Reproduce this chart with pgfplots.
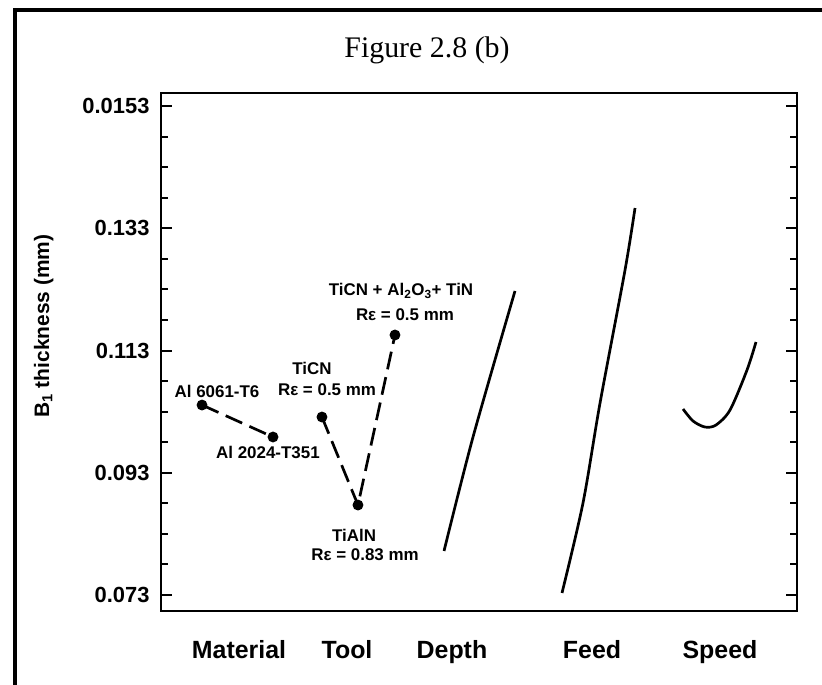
\documentclass[border=0pt]{standalone}
\usepackage{pgfplots}
\pgfplotsset{compat=1.18}
\usepackage{fontspec}
\setmainfont{Liberation Serif}
\newfontfamily\arial{Liberation Sans}
\begin{document}
\begin{tikzpicture}
\useasboundingbox (0,0) rectangle (822bp,-685bp);
\draw[line width=4bp] (15bp,-685bp) -- (15bp,-10bp) -- (822bp,-10bp);
\node[anchor=base, font=\fontsize{30}{30}\selectfont] at (427bp,-57bp) {Figure 2.8 (b)};
\begin{axis}[
  at={(161bp,-611bp)}, anchor=south west,
  width=636bp, height=518bp, scale only axis,
  xmin=0, xmax=100, ymin=0.07038, ymax=0.15513,
  axis line style={line width=2.8bp},
  xtick={12.26,29.25,45.75,67.77,87.89},
  xticklabels={Material,Tool,Depth,Feed,Speed},
  x tick style={draw=none},
  xticklabel style={anchor=base, yshift=-47bp, font=\arial\bfseries\fontsize{25}{25}\selectfont},
  ytick={0.073,0.093,0.113,0.133,0.153},
  yticklabels={0.073,0.093,0.113,0.133,0.0153},
  minor y tick num=3,
  y tick style={line width=2bp, black},
  major tick length=11bp, minor tick length=7bp,
  tick align=inside, ytick pos=both,
  yticklabel style={xshift=-8bp, font=\arial\bfseries\fontsize{22}{22}\selectfont},
  ylabel={B\textsubscript{1} thickness (mm)},
  ylabel style={at={(axis description cs:-0.1635,0.55)}, anchor=south,
    font=\arial\bfseries\fontsize{21}{21}\selectfont},
  clip=false,
]
% Material
\addplot[black, line width=2.7bp, dash pattern={on 18bp off 8bp}, mark=*, mark size=4bp,
  mark options={solid}] coordinates {(6.45,0.10408) (17.61,0.09885)};
% Tool
\addplot[black, line width=2.7bp, dash pattern={on 18bp off 8bp}, mark=*, mark size=4bp,
  mark options={solid}] coordinates {(25.31,0.10212) (30.97,0.08772) (36.79,0.11554)};
% Depth
\addplot[black, line width=2.7bp, smooth] coordinates {(44.50,0.08020) (49.06,0.09885) (55.66,0.12274)};
% Feed
\addplot[black, line width=2.7bp, smooth] coordinates {(63.05,0.07333) (66.35,0.08805) (69.03,0.10441) (72.96,0.12617) (74.53,0.13631)};
% Speed
\addplot[black, line width=2.7bp, smooth] coordinates {(82.08,0.10343) (83.65,0.10147) (85.53,0.10048) (87.26,0.10081) (89.47,0.10327) (92.14,0.10981) (93.55,0.11439)};
% annotations
\begin{scope}[every node/.style={font=\arial\bfseries\fontsize{17}{17}\selectfont, inner sep=0pt}]
\node at (axis cs:8.81,0.10637) {Al 6061-T6};
\node at (axis cs:16.82,0.09640) {Al 2024-T351};
\node at (axis cs:23.74,0.11014) {TiCN};
\node at (axis cs:26.10,0.10654) {Rε = 0.5 mm};
\node at (axis cs:30.35,0.08282) {TiAlN};
\node at (axis cs:32.08,0.07954) {Rε = 0.83 mm};
\node at (axis cs:37.74,0.12274) {TiCN + Al\textsubscript{2}O\textsubscript{3}+ TiN};
\node at (axis cs:38.36,0.11881) {Rε = 0.5 mm};
\end{scope}
\end{axis}
\end{tikzpicture}
\end{document}
